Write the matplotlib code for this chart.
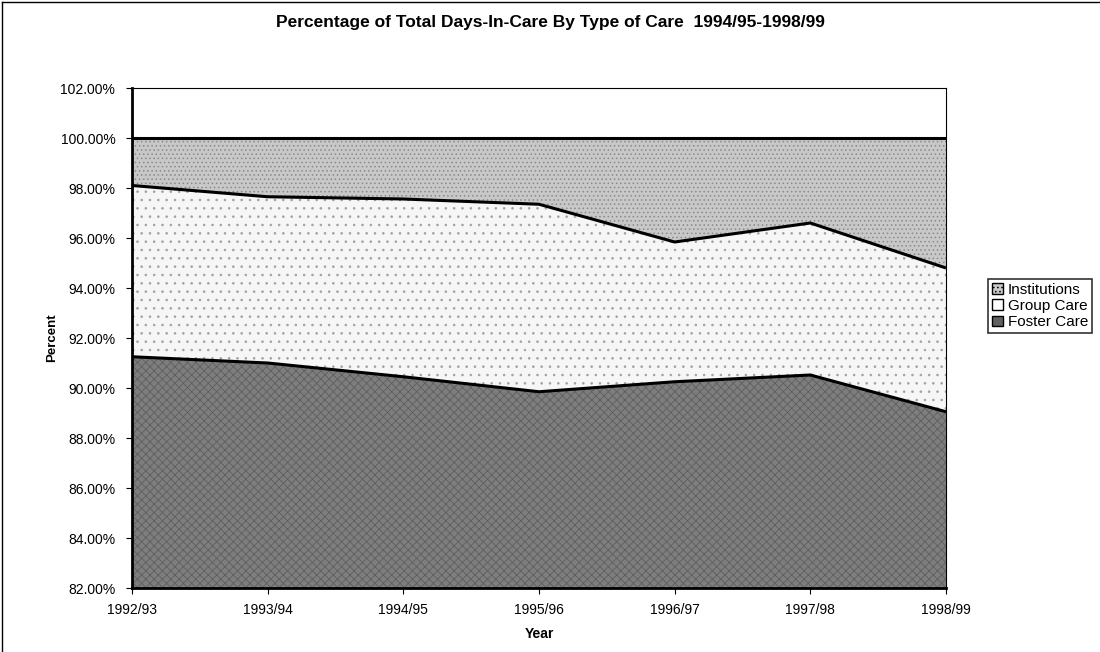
import matplotlib.pyplot as plt
import matplotlib.patches as mpatches
from matplotlib.lines import Line2D
from matplotlib.ticker import FuncFormatter, MultipleLocator

plt.rcParams['font.family'] = ['Liberation Sans', 'DejaVu Sans']
plt.rcParams['hatch.linewidth'] = 0.6

# Data (percent of total days in care)
years = ["1992/93", "1993/94", "1994/95", "1995/96", "1996/97", "1997/98", "1998/99"]
foster_care = [91.25, 91.0, 90.45, 89.85, 90.25, 90.52, 89.05]
group_care = [6.85, 6.65, 7.11, 7.5, 5.59, 6.08, 5.75]
institutions = [1.9, 2.35, 2.44, 2.65, 4.16, 3.4, 5.2]

colors = {"Foster Care": "#7e7e7e", "Group Care": "#f6f6f6", "Institutions": "#c8c8c8"}

fig = plt.figure(figsize=(11, 6.52), dpi=100)
ax = fig.add_axes([132 / 1100, 1 - 588 / 652, (946 - 132) / 1100, 500 / 652])

x = list(range(len(years)))
polys = ax.stackplot(x, foster_care, group_care, institutions,
                     colors=[colors["Foster Care"], colors["Group Care"], colors["Institutions"]],
                     linewidth=0)
polys[0].set_hatch("xxxx")
polys[0].set_edgecolor("#5e5e5e")
polys[1].set_hatch("..")
polys[1].set_edgecolor("#a0a0a0")
polys[2].set_hatch("....")
polys[2].set_edgecolor("#8a8a8a")

# boundary lines
top_foster = foster_care
top_group = [f + g for f, g in zip(foster_care, group_care)]
top_inst = [t + i for t, i in zip(top_group, institutions)]
for ys in (top_foster, top_group, top_inst):
    ax.plot(x, ys, color="black", linewidth=2.2, solid_capstyle="butt")

ax.set_xlim(0, len(years) - 1)
ax.set_ylim(82, 102)
ax.set_xticks(x)
ax.set_xticklabels(years, fontsize=10)
ax.yaxis.set_major_locator(MultipleLocator(2))
ax.yaxis.set_major_formatter(FuncFormatter(lambda v, p: f"{v:.2f}%"))
ax.tick_params(axis="y", labelsize=10, length=4, direction="out", pad=8)
ax.tick_params(axis="x", length=4, direction="out", pad=7)
for side in ("left", "bottom"):
    ax.spines[side].set_linewidth(2)
for side in ("right", "top"):
    ax.spines[side].set_linewidth(0.8)

ax.set_xlabel("Year", fontsize=10, fontweight="bold", labelpad=7)
ax.set_ylabel("Percent", fontsize=9.5, fontweight="bold", labelpad=2)

fig.text(0.5, 1 - 23 / 652, "Percentage of Total Days-In-Care By Type of Care  1994/95-1998/99",
         ha="center", va="center", fontsize=12.5, fontweight="bold")

handles = [
    mpatches.Patch(facecolor=colors["Institutions"], edgecolor="black", hatch="...."),
    mpatches.Patch(facecolor="white", edgecolor="black"),
    mpatches.Patch(facecolor="#606060", edgecolor="black"),
]
leg = fig.legend(handles, ["Institutions", "Group Care", "Foster Care"],
                 loc="upper left", bbox_to_anchor=(988 / 1100, 1 - 279 / 652),
                 fontsize=11, frameon=True, fancybox=False, borderpad=0.25,
                 handlelength=0.7, handleheight=0.7, handletextpad=0.35,
                 labelspacing=0.15, borderaxespad=0)
leg.get_frame().set_edgecolor("black")
leg.get_frame().set_linewidth(1.2)

# outer frame of the chart area
fig.add_artist(Line2D([0.002, 0.002], [0, 0.997], color="black", linewidth=1, transform=fig.transFigure))
fig.add_artist(Line2D([0.002, 1], [0.997, 0.997], color="black", linewidth=1, transform=fig.transFigure))

fig.savefig("out.png", dpi=100)
